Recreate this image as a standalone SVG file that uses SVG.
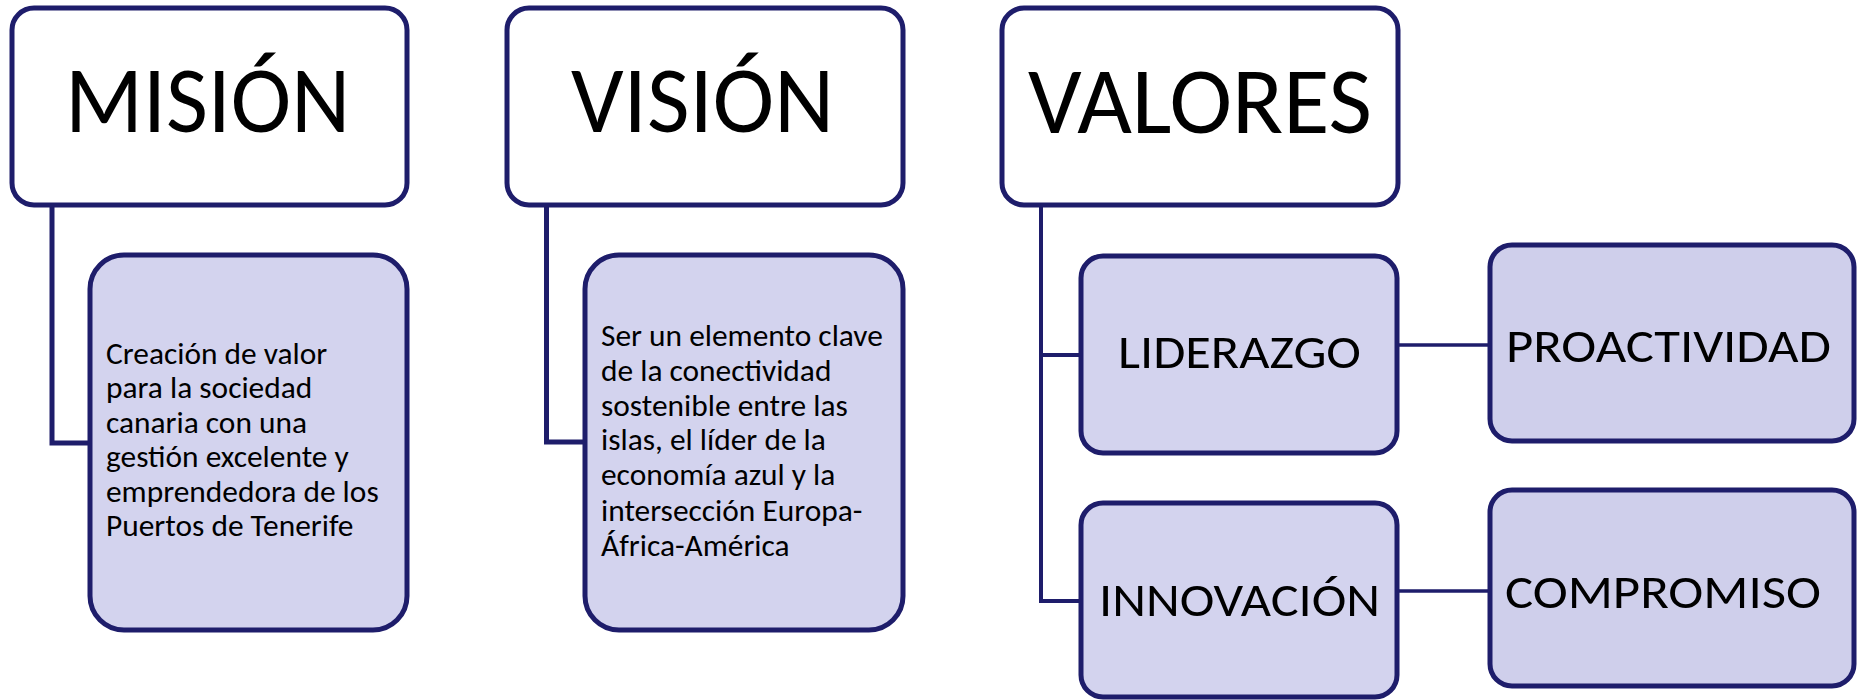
<svg xmlns="http://www.w3.org/2000/svg" width="1858" height="700" viewBox="0 0 1858 700">
<style>
.box{stroke:#1e1d6b;stroke-width:5}
.top{fill:#ffffff}
.sub{fill:#d3d3ee}
.sub2{fill:#cfcfeb}
.conn{fill:none;stroke:#1e1d6b;stroke-width:5;stroke-linejoin:miter}
.thin{fill:none;stroke:#1e1d6b;stroke-width:4}
.t{font-family:Carlito,"Liberation Sans",Arial,sans-serif;fill:#000}
.title{font-size:94px}
.body{font-size:31.4px}
.val{font-size:48px}
</style>
<rect width="1858" height="700" fill="#ffffff"/>
<g id="connectors">
<path class="conn" d="M52 205 V443 H90"/>
<path class="conn" d="M546.5 205 V442 H585"/>
<path class="thin" d="M1041 205 V601 H1081"/>
<path class="thin" d="M1041 355 H1081" stroke="#26239a"/>
<path class="thin" d="M1397 345 H1490" style="stroke-width:3.5"/>
<path class="thin" d="M1397 591 H1490" style="stroke-width:3.5"/>
</g>
<g id="mision">
<rect class="box top" x="12" y="8" width="395" height="197" rx="22"/>
<text class="t title" x="65" y="132" textLength="285" lengthAdjust="spacingAndGlyphs">MISIÓN</text>
</g>
<g id="mision-text">
<rect class="box sub" x="90" y="255" width="317" height="375" rx="34"/>
<text class="t body" x="106">
<tspan x="106" y="363.5">Creación de valor</tspan>
<tspan x="106" y="398">para la sociedad</tspan>
<tspan x="106" y="432.5">canaria con una</tspan>
<tspan x="106" y="467">gestión excelente y</tspan>
<tspan x="106" y="501.5">emprendedora de los</tspan>
<tspan x="106" y="536">Puertos de Tenerife</tspan>
</text>
</g>
<g id="vision">
<rect class="box top" x="507" y="8" width="396" height="197" rx="22"/>
<text class="t title" x="571" y="132" textLength="263" lengthAdjust="spacingAndGlyphs">VISIÓN</text>
</g>
<g id="vision-text">
<rect class="box sub" x="585" y="255" width="318" height="375" rx="34"/>
<text class="t body" x="601">
<tspan x="601" y="346">Ser un elemento clave</tspan>
<tspan x="601" y="380.5">de la conectividad</tspan>
<tspan x="601" y="415.5">sostenible entre las</tspan>
<tspan x="601" y="450">islas, el líder de la</tspan>
<tspan x="601" y="485">economía azul y la</tspan>
<tspan x="601" y="520.5">intersección Europa-</tspan>
<tspan x="601" y="555.5">África-América</tspan>
</text>
</g>
<g id="valores">
<rect class="box top" x="1002" y="8" width="396" height="197" rx="22"/>
<text class="t title" x="1028" y="133" textLength="344" lengthAdjust="spacingAndGlyphs">VALORES</text>
</g>
<g id="liderazgo">
<rect class="box sub" x="1081" y="256" width="316" height="197" rx="22"/>
<text class="t val" x="1118" y="368" textLength="243" lengthAdjust="spacingAndGlyphs">LIDERAZGO</text>
</g>
<g id="innovacion">
<rect class="box sub" x="1081" y="503" width="316" height="194" rx="22"/>
<text class="t val" x="1099" y="616" textLength="281" lengthAdjust="spacingAndGlyphs">INNOVACIÓN</text>
</g>
<g id="proactividad">
<rect class="box sub2" x="1490" y="245" width="364" height="196" rx="22"/>
<text class="t val" x="1506" y="361.5" textLength="325" lengthAdjust="spacingAndGlyphs">PROACTIVIDAD</text>
</g>
<g id="compromiso">
<rect class="box sub2" x="1490" y="490" width="364" height="196" rx="22"/>
<text class="t val" x="1505" y="608" textLength="316" lengthAdjust="spacingAndGlyphs">COMPROMISO</text>
</g>
</svg>
